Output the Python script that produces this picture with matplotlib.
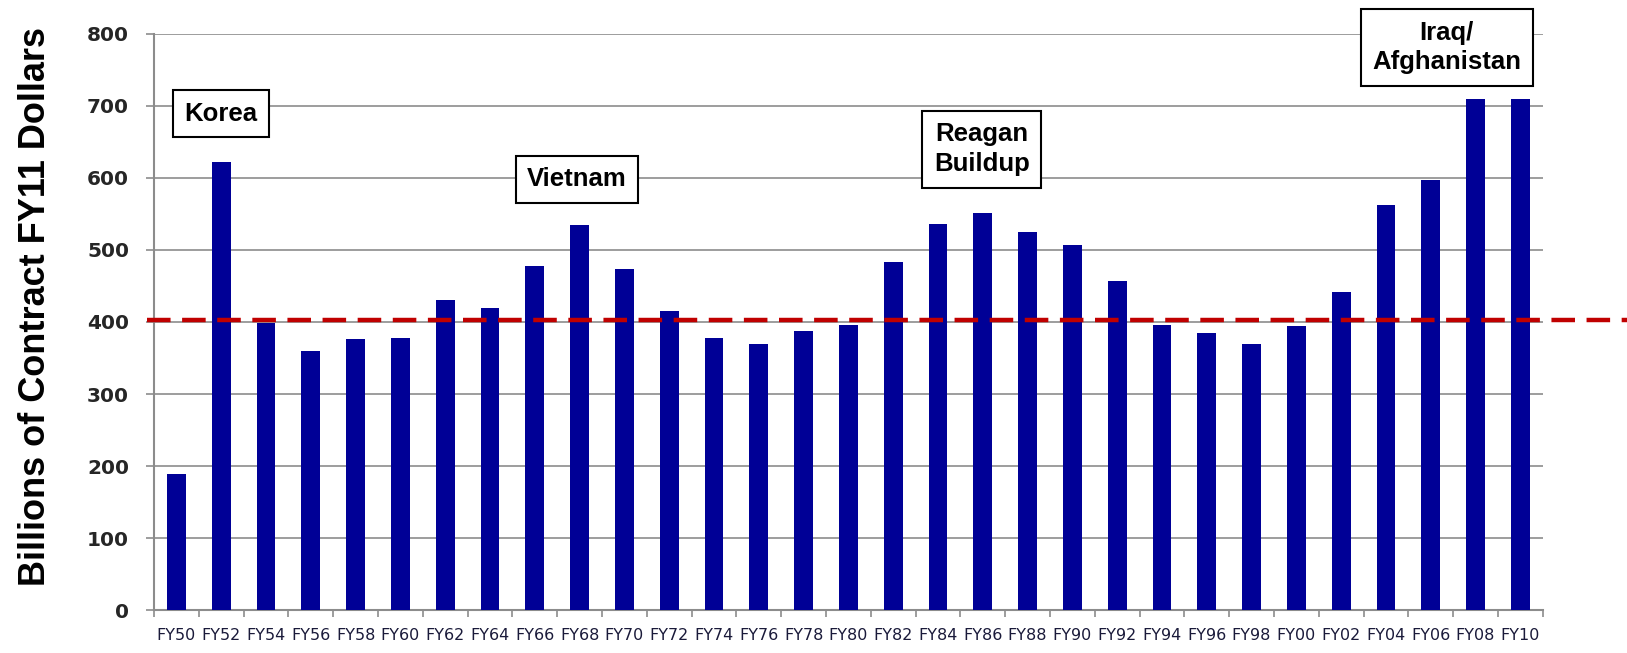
import matplotlib.pyplot as plt
import numpy as np

years = ['FY50', 'FY52', 'FY54', 'FY56', 'FY58', 'FY60', 'FY62', 'FY64', 'FY66', 'FY68',
         'FY70', 'FY72', 'FY74', 'FY76', 'FY78', 'FY80', 'FY82', 'FY84', 'FY86', 'FY88',
         'FY90', 'FY92', 'FY94', 'FY96', 'FY98', 'FY00', 'FY02', 'FY04', 'FY06', 'FY08', 'FY10']
spending = [189, 622, 398, 360, 376, 378, 431, 419, 478, 535,
            473, 415, 378, 370, 388, 396, 483, 536, 552, 525,
            507, 457, 396, 385, 370, 395, 442, 563, 597, 709, 709]
average_level = 403

# war labels: text, category position, height
war_labels = ['Korea', 'Vietnam', 'Reagan\nBuildup', 'Iraq/\nAfghanistan']
war_pos = [0.99, 8.94, 17.98, 28.36]
war_height = [689, 598, 640, 781]

fig = plt.figure(figsize=(16.27, 6.53), dpi=100)
ax = fig.add_axes([0.0947, 0.0658, 0.8535, 0.8822])

x = np.arange(len(years))
ax.bar(x, spending, width=0.42, color='#000096', zorder=3)

ax.set_xlim(-0.5, len(years) - 0.5)
ax.set_ylim(0, 800)
ax.set_yticks(range(0, 801, 100))
ax.yaxis.grid(True, color='#8c8c8c', linewidth=1.2, zorder=0)

ax.set_xticks(x)
ax.set_xticklabels(years, family=['Liberation Sans Narrow', 'DejaVu Sans'], fontsize=11.5, color='#1a1a3a')
ax.set_xticks(np.arange(-0.5, len(years), 1), minor=True)
ax.tick_params(axis='x', which='major', length=0, pad=13)
ax.tick_params(axis='x', which='minor', length=5, color='#8c8c8c', width=1.2)
ax.tick_params(axis='y', length=6, color='#8c8c8c', width=1.2, labelsize=14.5, labelcolor='#262626', pad=12)
for lab in ax.get_yticklabels():
    lab.set_fontweight('bold')
    lab.set_family(['DejaVu Sans'])

for side in ['top', 'right']:
    ax.spines[side].set_visible(False)
for side in ['left', 'bottom']:
    ax.spines[side].set_color('#8c8c8c')
    ax.spines[side].set_linewidth(1.5)

ax.set_ylabel('Billions of Contract FY11 Dollars', family=['Liberation Sans', 'DejaVu Sans'],
              fontsize=26, fontweight='bold')
ax.yaxis.set_label_coords(-0.073, 0.527)

ax.axhline(average_level, xmin=-0.005, xmax=1.07, color='#c00000', linewidth=3.2,
           linestyle=(0, (5.3, 2.6)), clip_on=False, zorder=4)

for label, pos, h in zip(war_labels, war_pos, war_height):
    ax.text(pos, h, label, ha='center', va='center', fontsize=18.5, fontweight='bold',
            family=['Liberation Sans', 'DejaVu Sans'], linespacing=1.3, zorder=5,
            bbox=dict(boxstyle='square,pad=0.45', facecolor='white', edgecolor='black', linewidth=1.5))

plt.savefig('out.png', dpi=100)
